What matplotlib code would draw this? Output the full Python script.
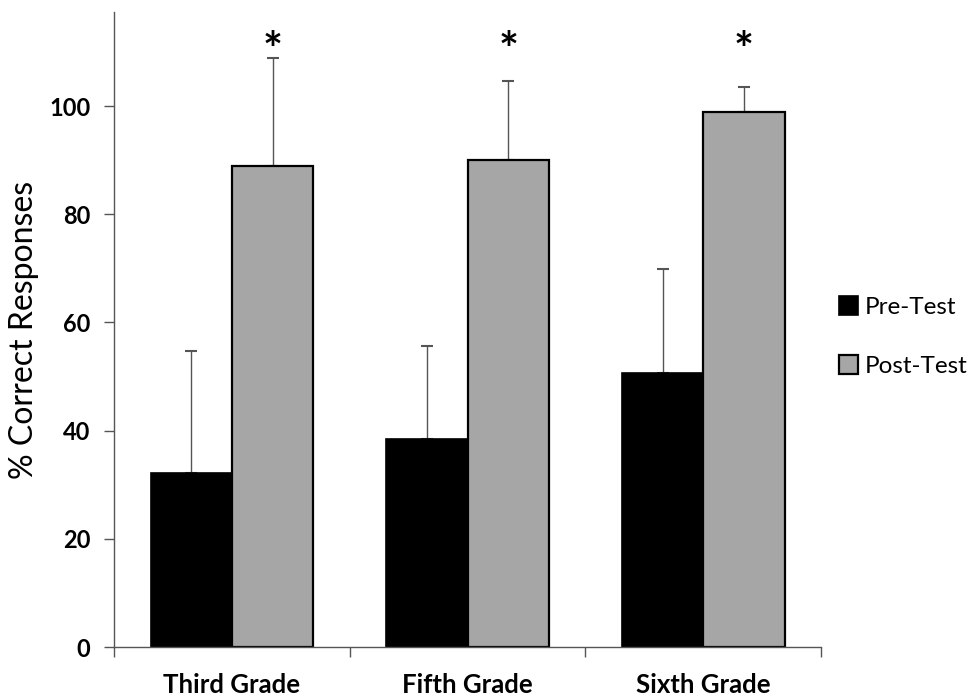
import matplotlib
matplotlib.use("Agg")
import matplotlib.pyplot as plt
import numpy as np

categories = ["Third Grade", "Fifth Grade", "Sixth Grade"]
pre_test = [32.1, 38.4, 50.6]
post_test = [89.0, 90.0, 98.9]
pre_err = [22.7, 17.2, 19.2]
post_err = [19.9, 14.7, 4.6]
yticks = [0, 20, 40, 60, 80, 100]
star_level = 110

plt.rcParams['font.family'] = ['Lato', 'DejaVu Sans']

fig = plt.figure(figsize=(9.72, 6.96), dpi=100)
ax = fig.add_axes([0.1173, 0.0704, 0.7274, 0.9124])

x = np.arange(len(categories))
w = 0.345
ax.bar(x - w/2, pre_test, w, color='black', edgecolor='black', linewidth=1.2,
       label='Pre-Test', zorder=2)
ax.bar(x + w/2, post_test, w, color='#a6a6a6', edgecolor='black', linewidth=1.6,
       label='Post-Test', zorder=2)
ax.errorbar(x - w/2, pre_test, yerr=[np.zeros(3), pre_err], fmt='none',
            ecolor='#555555', elinewidth=1.0, capsize=4.5, capthick=1.5, zorder=1)
ax.errorbar(x + w/2, post_test, yerr=[np.zeros(3), post_err], fmt='none',
            ecolor='#555555', elinewidth=1.0, capsize=4.5, capthick=1.5, zorder=1)
for xi in x:
    ax.text(xi + w/2, star_level, '*', ha='center', va='center', fontsize=34,
            fontweight='bold')

ax.set_xlim(-0.5, 2.5)
ax.set_ylim(0, 117.4)
ax.set_yticks(yticks)
ax.set_yticklabels([str(t) for t in yticks], fontsize=17, fontweight='bold')
ax.set_xticks(x)
ax.set_xticklabels(categories, fontsize=18.5, fontweight='bold')
ax.tick_params(axis='x', which='major', length=0, pad=18.5)
ax.set_xticks([-0.5, 0.5, 1.5, 2.5], minor=True)
ax.tick_params(axis='x', which='minor', length=7, width=1, color='#555555')
ax.tick_params(axis='y', length=7, width=1, color='#555555', pad=10)
for s in ['top', 'right']:
    ax.spines[s].set_visible(False)
for s in ['left', 'bottom']:
    ax.spines[s].set_color('#555555')
    ax.spines[s].set_linewidth(1)

ax.set_ylabel('% Correct Responses', fontsize=23, labelpad=7)

leg = fig.legend(loc='center left', bbox_to_anchor=(0.863, 0.5165), frameon=False,
                 fontsize=17.5, handlelength=0.8, handleheight=0.8,
                 handletextpad=0.25, labelspacing=1.53, borderaxespad=0.0,
                 borderpad=0.0)

fig.savefig('out.png', dpi=100)
